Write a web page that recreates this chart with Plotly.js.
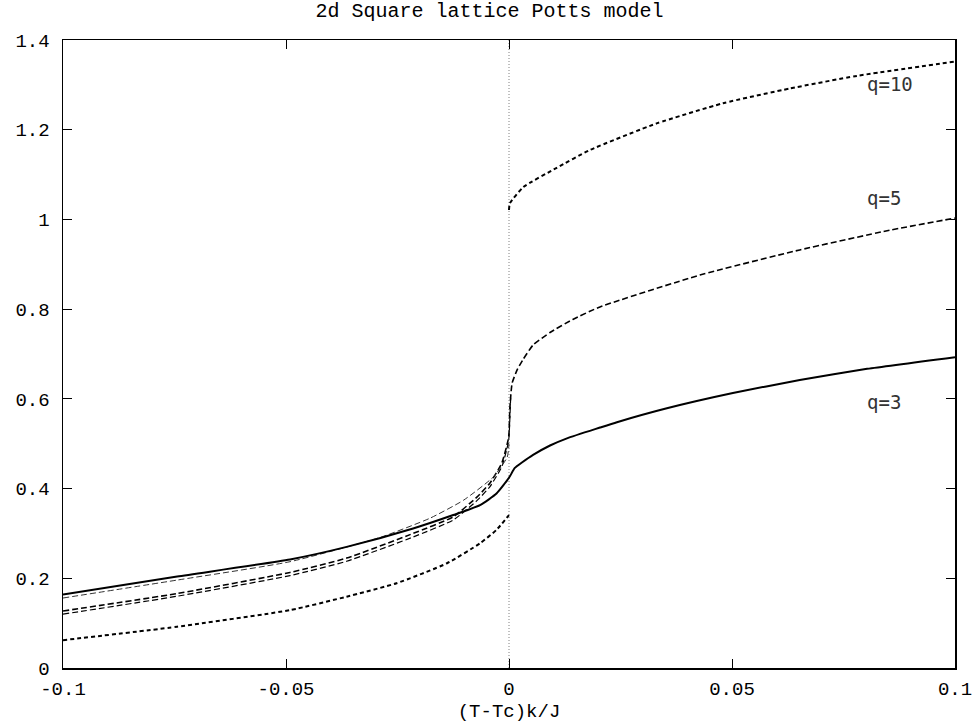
<!DOCTYPE html>
<html>
<head>
<meta charset="utf-8">
<script src="https://cdn.plot.ly/plotly-3.0.1.min.js"></script>
<style>html,body{margin:0;padding:0;background:#fff;}#chart{width:979px;height:726px;}</style>
</head>
<body>
<div id="chart"></div>
<script>
// q=3 (solid, continuous through Tc)
var q3_x = [-0.1, -0.0744, -0.0491, -0.0364, -0.0215, -0.0125, -0.0065, -0.0028, 0, 0.0013, 0.0029, 0.0054, 0.0092, 0.013, 0.0204, 0.0242, 0.0354, 0.0502, 0.0652, 0.0803, 0.1];
var q3_y = [0.164, 0.204, 0.242, 0.270, 0.311, 0.341, 0.363, 0.389, 0.424, 0.446, 0.458, 0.475, 0.496, 0.512, 0.536, 0.548, 0.579, 0.613, 0.642, 0.667, 0.693];
// thin dashed companion of q=3 below Tc
var q3b_x = [-0.1, -0.0744, -0.0491, -0.0289, -0.0177, -0.0102, -0.0035, -0.0004, 0];
var q3b_y = [0.156, 0.196, 0.237, 0.291, 0.334, 0.374, 0.426, 0.470, 0.500];
// q=5 (dashed)
var q5_x = [-0.1, -0.0744, -0.0491, -0.0364, -0.0215, -0.0125, -0.0072, -0.0043, -0.0016, -0.0002, 0, 0.0002, 0.0007, 0.0018, 0.0031, 0.0054, 0.0092, 0.0143, 0.0204, 0.0428, 0.0652, 0.0854, 0.1];
var q5_y = [0.127, 0.166, 0.213, 0.245, 0.300, 0.337, 0.381, 0.412, 0.457, 0.508, 0.523, 0.580, 0.635, 0.664, 0.687, 0.720, 0.748, 0.777, 0.805, 0.876, 0.932, 0.976, 1.003];
// second q=5 line below Tc
var q5b_x = [-0.1, -0.0744, -0.0491, -0.0364, -0.0215, -0.0125, -0.0072, -0.0043, -0.0016, -0.0002, 0, 0.0004];
var q5b_y = [0.120, 0.160, 0.206, 0.238, 0.292, 0.330, 0.373, 0.404, 0.449, 0.500, 0.515, 0.610];
// q=10 (dotted), below and above Tc
var q10lo_x = [-0.1, -0.0744, -0.0491, -0.0364, -0.0252, -0.014, -0.0065, -0.0028, 0];
var q10lo_y = [0.062, 0.092, 0.129, 0.159, 0.189, 0.233, 0.278, 0.308, 0.341];
var q10hi_x = [0, 0.0002, 0.0032, 0.0107, 0.0182, 0.0331, 0.048, 0.063, 0.078, 0.1];
var q10hi_y = [1.021, 1.036, 1.072, 1.115, 1.155, 1.214, 1.259, 1.292, 1.320, 1.352];
// critical temperature marker
var tc_x = [0, 0];
var tc_y = [0, 1.4];
// curve labels
var label_text = ['q=10', 'q=5', 'q=3'];
var label_x = [0.0798, 0.0798, 0.0798];
var label_y = [1.302, 1.048, 0.593];
var x_ticks = [-0.1, -0.05, 0, 0.05, 0.1];
var x_tick_text = ['-0.1', '-0.05', '0', '0.05', '0.1'];
var y_ticks = [0, 0.2, 0.4, 0.6, 0.8, 1, 1.2, 1.4];
var y_tick_text = ['0', '0.2', '0.4', '0.6', '0.8', '1', '1.2', '1.4'];

var mono = '"Courier New", "Liberation Mono", monospace';

var traces = [
  {x: tc_x, y: tc_y, mode: 'lines', line: {color: '#808080', width: 1, dash: '1px,2px'}, hoverinfo: 'skip'},
  {x: q10lo_x, y: q10lo_y, mode: 'lines', line: {color: '#000', width: 2, dash: '4px,3px', shape: 'spline', smoothing: 0.5}},
  {x: q10hi_x, y: q10hi_y, mode: 'lines', line: {color: '#000', width: 2, dash: '4px,3px', shape: 'spline', smoothing: 0.5}},
  {x: q5b_x, y: q5b_y, mode: 'lines', line: {color: '#000', width: 1.2, dash: '6px,3px', shape: 'spline', smoothing: 0.5}},
  {x: q5_x, y: q5_y, mode: 'lines', line: {color: '#000', width: 1.6, dash: '6px,3px', shape: 'spline', smoothing: 0.5}},
  {x: q3b_x, y: q3b_y, mode: 'lines', line: {color: '#333', width: 1, dash: '6px,3px', shape: 'spline', smoothing: 0.5}},
  {x: q3_x, y: q3_y, mode: 'lines', line: {color: '#000', width: 2, shape: 'spline', smoothing: 0.5}}
];

var annotations = label_text.map(function (t, i) {
  return {x: label_x[i], y: label_y[i], xref: 'x', yref: 'y', text: t, showarrow: false,
    xanchor: 'left', yanchor: 'middle', font: {family: '"DejaVu Sans Mono", monospace', size: 19, color: '#333'}};
});

var layout = {
  width: 979, height: 726,
  margin: {l: 63, r: 24, t: 40, b: 58},
  paper_bgcolor: '#fff', plot_bgcolor: '#fff',
  showlegend: false,
  title: {text: '2d Square lattice Potts model', x: 0.5, xanchor: 'center', y: 0.986, yanchor: 'middle',
    font: {family: mono, size: 20, color: '#000'}},
  xaxis: {
    range: [-0.1, 0.1], tickvals: x_ticks, ticktext: x_tick_text,
    showgrid: false, zeroline: false, showline: true, linecolor: '#000', linewidth: 1.5, mirror: 'ticks',
    ticks: 'inside', ticklen: 9, tickwidth: 1, tickcolor: '#000',
    tickfont: {family: mono, size: 19, color: '#000'}, ticklabelstandoff: 3,
    title: {text: '(T-Tc)k/J', font: {family: mono, size: 19, color: '#000'}, standoff: 0}
  },
  yaxis: {
    range: [0, 1.4], tickvals: y_ticks, ticktext: y_tick_text,
    showgrid: false, zeroline: false, showline: true, linecolor: '#000', linewidth: 1.5, mirror: 'ticks',
    ticks: 'inside', ticklen: 9, tickwidth: 1, tickcolor: '#000',
    tickfont: {family: mono, size: 19, color: '#000'}, ticklabelstandoff: 8
  },
  annotations: annotations
};

Plotly.newPlot('chart', traces, layout, {displayModeBar: false, staticPlot: true});
</script>
</body>
</html>
